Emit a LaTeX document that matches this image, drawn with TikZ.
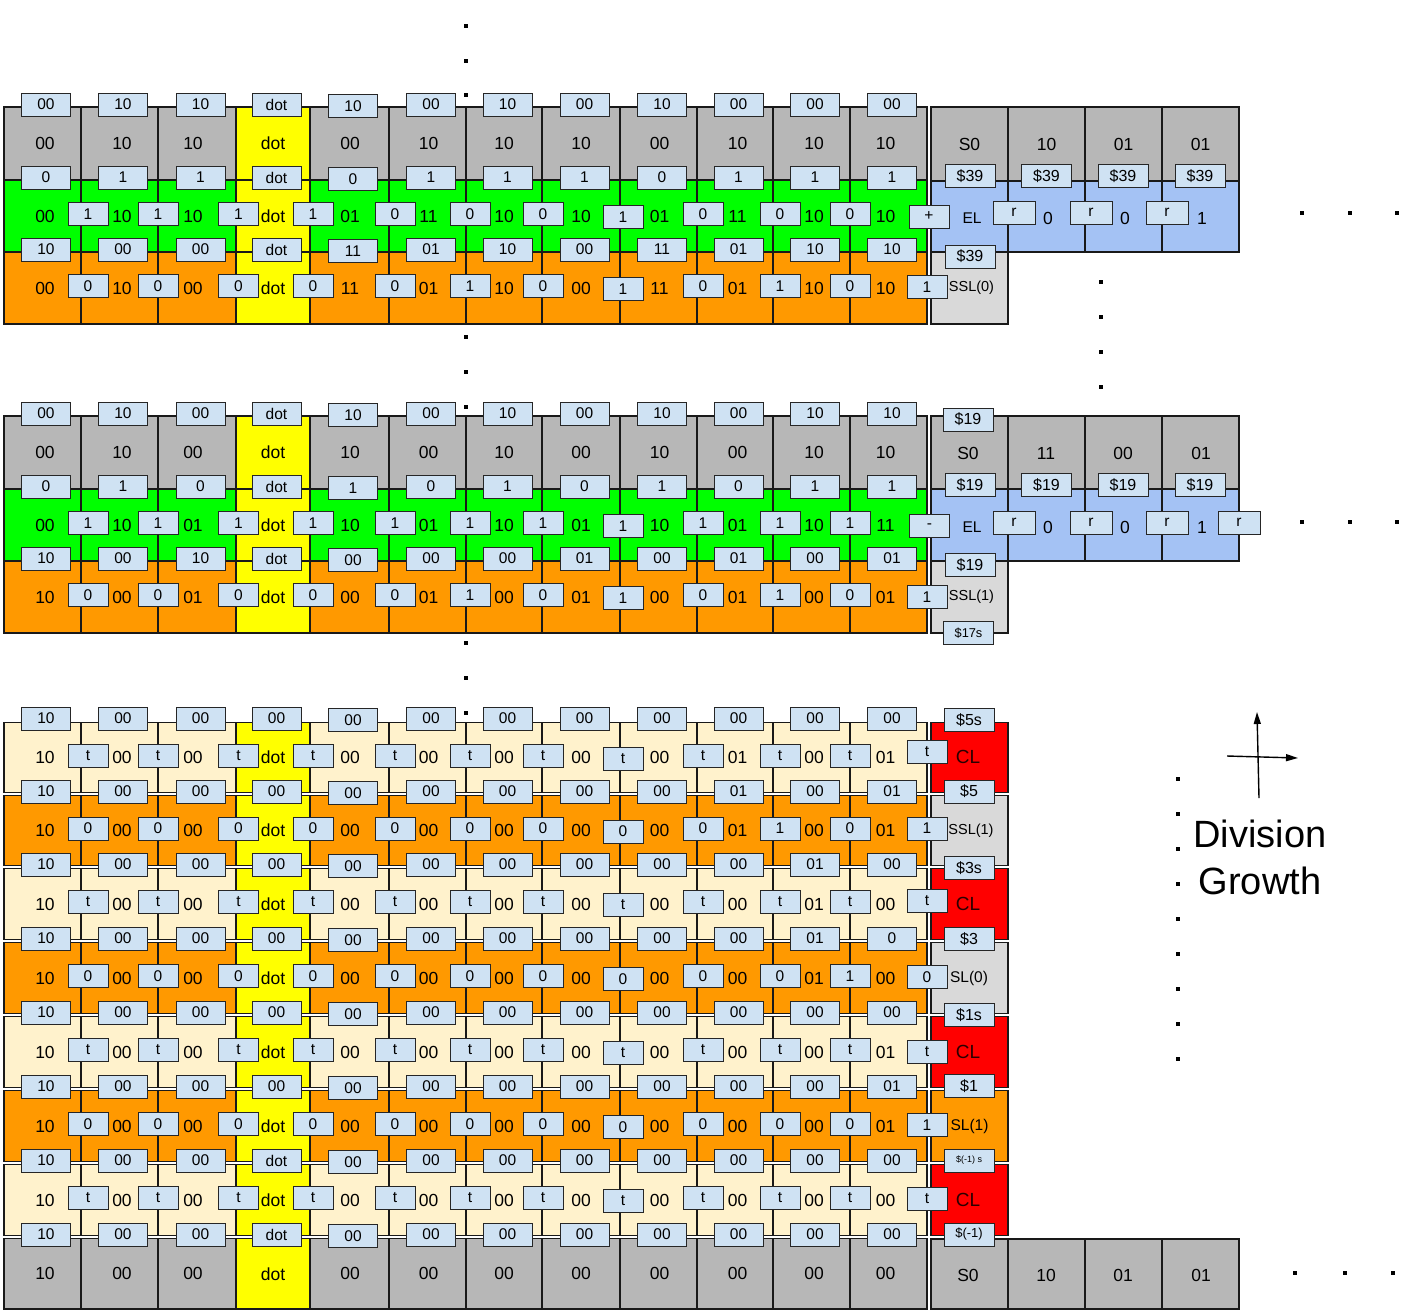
\documentclass[tikz,border=0pt]{standalone}
\usepackage{fontspec}
\setmainfont{Liberation Sans}
\usetikzlibrary{arrows.meta}
\definecolor{cgray}{HTML}{B7B7B7}
\definecolor{cgreen}{HTML}{00FF00}
\definecolor{corange}{HTML}{FF9900}
\definecolor{cyel}{HTML}{FFFF00}
\definecolor{ccream}{HTML}{FFF2CC}
\definecolor{cblue}{HTML}{A4C2F4}
\definecolor{clgray}{HTML}{D9D9D9}
\definecolor{cred}{HTML}{FF0000}
\definecolor{cbox}{HTML}{CFE2F3}
\definecolor{clred}{HTML}{2A0000}
\tikzset{
  cellb/.style={draw=black!90, line width=1.3pt},
  valtxt/.style={inner sep=0pt, font=\fontsize{17.5}{17.5}\selectfont},
  lbox/.style={draw=black!85, fill=cbox, line width=1pt, minimum width=49pt, minimum height=23pt, inner sep=0pt, font=\fontsize{15.5}{15.5}\selectfont},
  ibox/.style={lbox, minimum width=40pt},
  dbox/.style={lbox, minimum width=50pt, font=\fontsize{16}{16}\selectfont},
  sltxt/.style={inner sep=0pt, font=\fontsize{14.5}{14.5}\selectfont},
  eltxt/.style={inner sep=0pt, font=\fontsize{15.5}{15.5}\selectfont},
  cltxt/.style={inner sep=0pt, text=clred, font=\fontsize{19}{19}\selectfont},
  bigtxt/.style={inner sep=0pt, anchor=base, font=\fontsize{38}{38}\selectfont},
  axarr/.style={line width=1.4pt, -{Triangle[length=12pt,width=7pt]}},
}
\def\XL{{4,81,158,236,310,389,466,542,620,697,773,850,927}}
\def\TOFF{{2.5,2.5,-4,0,0.5,1,0,0,1,2.5,2.5,-3}}
\def\BOFF{{0,7,0,2.5,3,6,4,1,3,6,7,0}}
\def\BDY{{0,0,0,0,0,0,0,0,3,0,0,0}}
% #1 ytop #2 ybot #3 fill #4 values #5 name
\newcommand\cellrow[5]{%
  \foreach \v [count=\i from 0] in {#4} {%
    \pgfmathsetmacro\xa{\XL[\i]}%
    \pgfmathsetmacro\xb{\XL[\i+1]}%
    \pgfmathsetmacro\xo{\TOFF[\i]}%
    \pgfmathsetmacro\xt{(\xa+\xb)/2+\xo}%
    \ifnum\i=3 \colorlet{cf}{cyel}\else\colorlet{cf}{#3}\fi
    \path[cellb, fill=cf] (\xa,#1) rectangle (\xb,#2);
    \node[valtxt] (#5v\i) at (\xt,{(#1+#2)/2}) {\v};
  }}
% #1 ymid #2 labels (boundaries 1..11) #3 name
\newcommand\inrow[3]{%
  \foreach \v [count=\i from 1] in {#2} {%
    \pgfmathsetmacro\xa{\XL[\i]}%
    \pgfmathsetmacro\xo{\BOFF[\i]}%
    \pgfmathsetmacro\yo{\BDY[\i]}%
    \pgfmathsetmacro\xc{\xa+\xo}%
    \pgfmathsetmacro\ya{#1-2+\yo}%
    \node[ibox] (#3i\i) at (\xc,\ya) {\v};
  }}
% #1 boundary y #2 labels #3 name
\newcommand\labrow[3]{%
  \foreach \v [count=\i from 0] in {#2} {%
    \pgfmathsetmacro\xa{\XL[\i]}%
    \pgfmathsetmacro\xb{\XL[\i+1]}%
    \pgfmathsetmacro\xc{(\xa+\xb)/2+3.5}%
    \pgfmathsetmacro\ya{#1-2.5+(\i==4)*1.5}%
    \node[lbox] (#3l\i) at (\xc,\ya) {\v};
  }}
\newcommand\sq[2]{\fill (#1-2.3,#2-2.3) rectangle (#1+2.3,#2+2.3);}
\begin{document}
\begin{tikzpicture}[x=1pt,y=-1pt]
\useasboundingbox (0,0) rectangle (1410,1315);
\fill[white] (0,0) rectangle (1410,1315);

% ================= TOP BLOCK =================
\cellrow{107}{180}{cgray}{00,10,10,dot,00,10,10,10,00,10,10,10}{A1}
\cellrow{180}{252}{cgreen}{00,10,10,dot,01,11,10,10,01,11,10,10}{A2}
\cellrow{252}{324}{corange}{00,10,00,dot,11,01,10,00,11,01,10,10}{A3}
\path[cellb, fill=cgray] (931,107) rectangle (1008,181);
\path[cellb, fill=cgray] (1008,107) rectangle (1085,181);
\path[cellb, fill=cgray] (1085,107) rectangle (1162,181);
\path[cellb, fill=cgray] (1162,107) rectangle (1239,181);
\path[cellb, fill=cblue] (931,181) rectangle (1008,252);
\path[cellb, fill=cblue] (1008,181) rectangle (1085,252);
\path[cellb, fill=cblue] (1085,181) rectangle (1162,252);
\path[cellb, fill=cblue] (1162,181) rectangle (1239,252);
\path[cellb, fill=clgray] (931,252) rectangle (1008,324);
\node[valtxt] (AR1) at (969.5,144) {S0};
\node[valtxt] (AR2) at (1046.5,144) {10};
\node[valtxt] (AR3) at (1123.5,144) {01};
\node[valtxt] (AR4) at (1200.5,144) {01};
\node[eltxt] (AEL) at (972,218) {EL};
\node[valtxt] (AB2) at (1048,218) {0};
\node[valtxt] (AB3) at (1125,218) {0};
\node[valtxt] (AB4) at (1202,218) {1};
\node[sltxt] (ASSL) at (971.5,288) {SSL(0)};
\labrow{107}{00,10,10,dot,10,00,10,00,10,00,00,00}{A1}
\labrow{180}{0,1,1,dot,0,1,1,1,0,1,1,1}{A2}
\labrow{252}{10,00,00,dot,11,01,10,00,11,01,10,10}{A3}
\inrow{216}{1,1,1,1,0,0,0,1,0,0,0}{A2}
\inrow{288}{0,0,0,0,0,1,0,1,0,1,0}{A3}
\node[ibox] (Aplus) at (929,216.5) {+};
\node[ibox] (Aone) at (927,287) {1};
\node[dbox] (AD1) at (970,176) {\$39};
\node[dbox] (AD2) at (1046.5,176) {\$39};
\node[dbox] (AD3) at (1123,176) {\$39};
\node[dbox] (AD4) at (1200,176) {\$39};
\node[dbox] (AD5) at (970,256.5) {\$39};
\node[ibox, minimum width=42pt] (Ar1) at (1014,212.5) {r};
\node[ibox, minimum width=42pt] (Ar2) at (1091,212.5) {r};
\node[ibox, minimum width=42pt] (Ar3) at (1167,212.5) {r};

% ================= MIDDLE BLOCK =================
\cellrow{416}{489}{cgray}{00,10,00,dot,10,00,10,00,10,00,10,10}{B1}
\cellrow{489}{561}{cgreen}{00,10,01,dot,10,01,10,01,10,01,10,11}{B2}
\cellrow{561}{633}{corange}{10,00,01,dot,00,01,00,01,00,01,00,01}{B3}
\path[cellb, fill=cgray] (931,416) rectangle (1008,489);
\path[cellb, fill=cgray] (1008,416) rectangle (1085,489);
\path[cellb, fill=cgray] (1085,416) rectangle (1162,489);
\path[cellb, fill=cgray] (1162,416) rectangle (1239,489);
\path[cellb, fill=cblue] (931,489) rectangle (1008,561);
\path[cellb, fill=cblue] (1008,489) rectangle (1085,561);
\path[cellb, fill=cblue] (1085,489) rectangle (1162,561);
\path[cellb, fill=cblue] (1162,489) rectangle (1239,561);
\path[cellb, fill=clgray] (931,561) rectangle (1008,633);
\node[valtxt] (BR1) at (968,453) {S0};
\node[valtxt] (BR2) at (1046,453) {11};
\node[valtxt] (BR3) at (1123,453) {00};
\node[valtxt] (BR4) at (1201,453) {01};
\node[eltxt] (BEL) at (972,527) {EL};
\node[valtxt] (BB2) at (1048,527) {0};
\node[valtxt] (BB3) at (1125,527) {0};
\node[valtxt] (BB4) at (1202,527) {1};
\node[sltxt] (BSSL) at (971.5,597) {SSL(1)};
\labrow{416}{00,10,00,dot,10,00,10,00,10,00,10,10}{B1}
\labrow{489}{0,1,0,dot,1,0,1,0,1,0,1,1}{B2}
\labrow{561}{10,00,10,dot,00,00,00,01,00,01,00,01}{B3}
\inrow{525}{1,1,1,1,1,1,1,1,1,1,1}{B2}
\inrow{597}{0,0,0,0,0,1,0,1,0,1,0}{B3}
\node[ibox] (Bminus) at (929.5,526) {-};
\node[ibox] (Bone) at (927,597) {1};
\node[dbox] (BD0) at (968,419.5) {\$19};
\node[dbox] (BD1) at (970,485) {\$19};
\node[dbox] (BD2) at (1046.5,485) {\$19};
\node[dbox] (BD3) at (1123,485) {\$19};
\node[dbox] (BD4) at (1200,485) {\$19};
\node[dbox] (BD5) at (970,565) {\$19};
\node[dbox, font=\fontsize{12.8}{12.8}\selectfont] (BD6) at (968.5,633) {\$17s};
\node[ibox, minimum width=42pt] (Br1) at (1014,522.5) {r};
\node[ibox, minimum width=42pt] (Br2) at (1091,522.5) {r};
\node[ibox, minimum width=42pt] (Br3) at (1167,522.5) {r};
\node[ibox, minimum width=42pt] (Br4) at (1239,522.5) {r};

% ================= BOTTOM BLOCK =================
\cellrow{722.5}{792.5}{ccream}{10,00,00,dot,00,00,00,00,00,01,00,01}{C1}
\cellrow{795.5}{865.5}{corange}{10,00,00,dot,00,00,00,00,00,01,00,01}{C2}
\cellrow{868.5}{939.5}{ccream}{10,00,00,dot,00,00,00,00,00,00,01,00}{C3}
\cellrow{942.5}{1013.5}{corange}{10,00,00,dot,00,00,00,00,00,00,01,00}{C4}
\cellrow{1016.5}{1087.5}{ccream}{10,00,00,dot,00,00,00,00,00,00,00,01}{C5}
\cellrow{1090.5}{1161.5}{corange}{10,00,00,dot,00,00,00,00,00,00,00,01}{C6}
\cellrow{1164.5}{1235.5}{ccream}{10,00,00,dot,00,00,00,00,00,00,00,00}{C7}
\cellrow{1238.5}{1309}{cgray}{10,00,00,dot,00,00,00,00,00,00,00,00}{C8}
\path[cellb, fill=cred] (931,722.5) rectangle (1008,792.5);
\path[cellb, fill=clgray] (931,795.5) rectangle (1008,865.5);
\path[cellb, fill=cred] (931,868.5) rectangle (1008,939.5);
\path[cellb, fill=clgray] (931,942.5) rectangle (1008,1013.5);
\path[cellb, fill=cred] (931,1016.5) rectangle (1008,1087.5);
\path[cellb, fill=corange] (931,1090.5) rectangle (1008,1161.5);
\path[cellb, fill=cred] (931,1164.5) rectangle (1008,1235.5);
\path[cellb, fill=cgray] (931,1239) rectangle (1008,1309);
\path[cellb, fill=cgray] (1008,1239) rectangle (1085,1309);
\path[cellb, fill=cgray] (1085,1239) rectangle (1162,1309);
\path[cellb, fill=cgray] (1162,1239) rectangle (1239,1309);
\node[cltxt] (CL1) at (968,757) {CL};
\node[sltxt] (CS2) at (971,830.5) {SSL(1)};
\node[cltxt] (CL3) at (968,904) {CL};
\node[sltxt, font=\fontsize{15.5}{15.5}\selectfont] (CS4) at (969,978) {SL(0)};
\node[cltxt] (CL5) at (968,1052) {CL};
\node[sltxt, font=\fontsize{15.5}{15.5}\selectfont] (CS6) at (969.5,1126) {SL(1)};
\node[cltxt] (CL7) at (968,1200) {CL};
\node[valtxt] (CR1) at (968,1275) {S0};
\node[valtxt] (CR2) at (1046,1275) {10};
\node[valtxt] (CR3) at (1123,1275) {01};
\node[valtxt] (CR4) at (1201,1275) {01};
\labrow{721}{10,00,00,00,00,00,00,00,00,00,00,00}{C1}
\labrow{794}{10,00,00,00,00,00,00,00,00,01,00,01}{C2}
\labrow{867}{10,00,00,00,00,00,00,00,00,00,01,00}{C3}
\labrow{941}{10,00,00,00,00,00,00,00,00,00,01,0}{C4}
\labrow{1015}{10,00,00,00,00,00,00,00,00,00,00,00}{C5}
\labrow{1089}{10,00,00,00,00,00,00,00,00,00,00,01}{C6}
\labrow{1163}{10,00,00,dot,00,00,00,00,00,00,00,00}{C7}
\labrow{1237}{10,00,00,dot,00,00,00,00,00,00,00,00}{C8}
\inrow{757.5}{t,t,t,t,t,t,t,t,t,t,t}{C1}
\inrow{830.5}{0,0,0,0,0,0,0,0,0,1,0}{C2}
\inrow{904}{t,t,t,t,t,t,t,t,t,t,t}{C3}
\inrow{978}{0,0,0,0,0,0,0,0,0,0,1}{C4}
\inrow{1052}{t,t,t,t,t,t,t,t,t,t,t}{C5}
\inrow{1126}{0,0,0,0,0,0,0,0,0,0,0}{C6}
\inrow{1200}{t,t,t,t,t,t,t,t,t,t,t}{C7}
\node[ibox] (Ct1) at (927,752) {t};
\node[ibox] (Ct2) at (927,828.5) {1};
\node[ibox] (Ct3) at (927,900.5) {t};
\node[ibox] (Ct4) at (927,977) {0};
\node[ibox] (Ct5) at (927,1051.5) {t};
\node[ibox] (Ct6) at (927,1125) {1};
\node[ibox] (Ct7) at (927,1198.5) {t};
\node[dbox] (CD1) at (969,720) {\$5s};
\node[dbox] (CD2) at (969,791.5) {\$5};
\node[dbox] (CD3) at (969,868) {\$3s};
\node[dbox] (CD4) at (969,939) {\$3};
\node[dbox] (CD5) at (969,1015) {\$1s};
\node[dbox] (CD6) at (969,1086) {\$1};
\node[dbox, font=\fontsize{9}{9}\selectfont] (CD7) at (969,1160.5) {\$(-1) s};
\node[dbox, font=\fontsize{13}{13}\selectfont] (CD8) at (969,1234.5) {\$(-1)};

% ================= DOTS =================
\sq{466}{26}\sq{466}{61}\sq{466}{95}
\sq{466}{337}\sq{466}{372}\sq{466}{407}
\sq{466}{643}\sq{466}{678}\sq{466}{713}
\sq{1101}{282}\sq{1101}{317}\sq{1101}{352}\sq{1101}{387}
\sq{1302}{213}\sq{1350}{213}\sq{1397}{213}
\sq{1302}{522}\sq{1350}{522}\sq{1397}{522}
\sq{1295}{1273}\sq{1345}{1273}\sq{1393}{1273}
\foreach \yy in {779,814,849,884,919,954,989,1024,1059} {\sq{1178}{\yy}}

% ================= AXES & TEXT =================
\coordinate (vA) at (1259,798);
\coordinate (vB) at (1257,712);
\coordinate (hA) at (1227,756);
\coordinate (hB) at (1298,758);
\draw[axarr] (vA) -- (vB);
\draw[axarr] (hA) -- (hB);
\node[bigtxt] (tdiv) at (1260,847) {Division};
\node[bigtxt] (tgro) at (1260,894) {Growth};
\end{tikzpicture}
\end{document}
